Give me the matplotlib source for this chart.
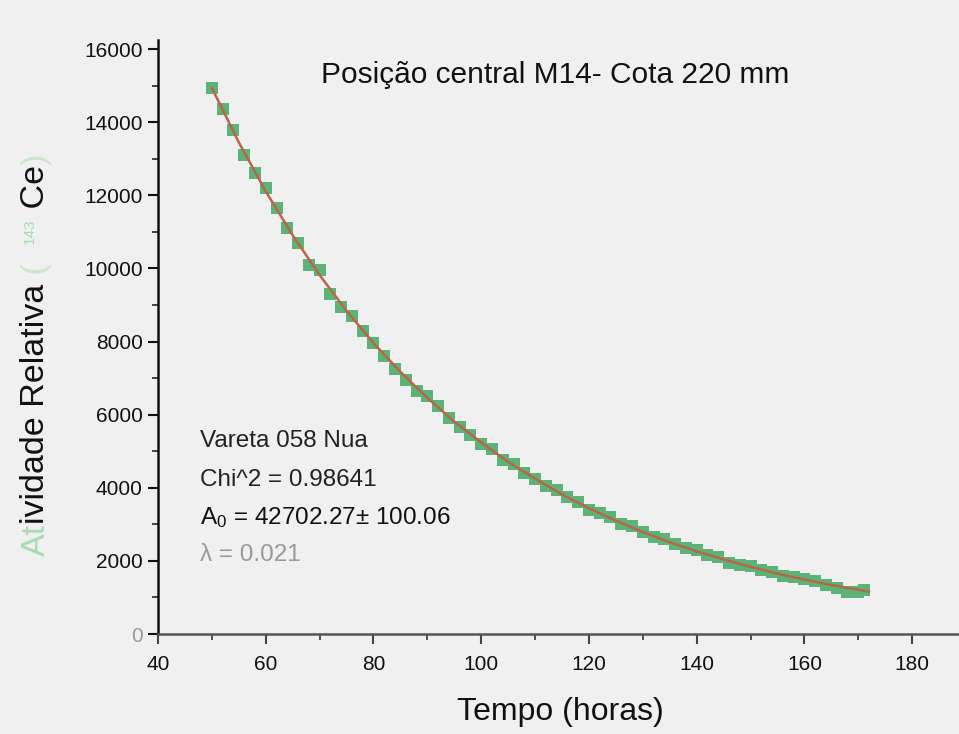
import matplotlib
matplotlib.use("Agg")
import matplotlib.pyplot as plt
from matplotlib.ticker import MultipleLocator

plt.rcParams['font.family'] = ['Liberation Sans', 'DejaVu Sans']
plt.rcParams['mathtext.fontset'] = 'custom'
plt.rcParams['mathtext.rm'] = 'Liberation Sans'
plt.rcParams['mathtext.default'] = 'regular'

# ---- data ----
tempo = [50, 52, 54, 56, 58, 60, 62, 64, 66, 68, 70, 72, 74, 76, 78, 80, 82, 84,
         86, 88, 90, 92, 94, 96, 98, 100, 102, 104, 106, 108, 110, 112, 114, 116,
         118, 120, 122, 124, 126, 128, 130, 132, 134, 136, 138, 140, 142, 144, 146,
         148, 150, 152, 154, 156, 158, 160, 162, 164, 166, 168, 170, 171]
atividade = [14950, 14350, 13800, 13100, 12600, 12200, 11650, 11100, 10700, 10100,
             9950, 9300, 8950, 8700, 8300, 7950, 7600, 7250, 6950, 6650, 6500, 6250,
             5900, 5650, 5450, 5200, 5050, 4750, 4650, 4400, 4250, 4050, 3950, 3750,
             3600, 3400, 3300, 3200, 3000, 2950, 2800, 2650, 2600, 2450, 2350, 2300,
             2150, 2100, 1950, 1900, 1850, 1750, 1700, 1600, 1550, 1500, 1450, 1350,
             1250, 1150, 1150, 1200]

fit_t = [50, 55, 60, 65, 70, 75, 80, 85, 90, 95, 100, 105, 110, 115, 120, 125,
         130, 135, 140, 145, 150, 155, 160, 165, 170, 172]
fit_a = [14940, 13450, 12110, 10910, 9820, 8840, 7960, 7170, 6460, 5810, 5240,
         4710, 4250, 3820, 3440, 3100, 2790, 2510, 2260, 2040, 1840, 1650, 1490,
         1340, 1210, 1160]

x_ticks = [40, 60, 80, 100, 120, 140, 160, 180]
y_ticks = [0, 2000, 4000, 6000, 8000, 10000, 12000, 14000, 16000]

title = "Posição central M14- Cota 220 mm"
annot = ["Vareta 058 Nua", "Chi^2 = 0.98641",
         "A$_{0}$ = 42702.27± 100.06", "λ = 0.021"]

BG = '#f0f0f0'
GREEN = '#5cb377'
LINE = '#b8654a'
LIGHTG = '#a8dcb0'

W, H = 959, 734
fig = plt.figure(figsize=(W / 100, H / 100), dpi=100, facecolor=BG)
ax = fig.add_axes([158 / W, 1 - 634 / H, (W - 158) / W, (634 - 40) / H])
ax.set_facecolor(BG)

ax.plot(tempo, atividade, linestyle='none', marker='s', markersize=9.3,
        color=GREEN, markeredgewidth=0, zorder=2, clip_on=False)
ax.plot(fit_t, fit_a, color=LINE, linewidth=1.8, zorder=3)

ax.set_xlim(40, 188.7)
ax.set_ylim(0, 16250)
ax.set_xticks(x_ticks)
ax.set_yticks(y_ticks)
ax.xaxis.set_minor_locator(MultipleLocator(10))
ax.yaxis.set_minor_locator(MultipleLocator(1000))

for s in ['top', 'right']:
    ax.spines[s].set_visible(False)
ax.spines['left'].set_linewidth(1.8)
ax.spines['left'].set_color('#111111')
ax.spines['bottom'].set_linewidth(1.8)
ax.spines['bottom'].set_color('#555555')

ax.tick_params(axis='both', which='major', direction='out', length=7, width=1.5,
               labelsize=15, pad=4, colors='#111111')
ax.tick_params(axis='both', which='minor', direction='out', length=4, width=1.3,
               colors='#333333')
ax.tick_params(axis='x', which='both', colors='#444444', labelcolor='#111111')
ax.tick_params(axis='x', which='major', pad=8)
ax.get_yticklabels()[0].set_color('#999999')

# title
fig.text(555 / W, 1 - 75 / H, title, ha='center', va='center', fontsize=21.5,
         color='#111111')

# annotations
ys = [441, 480, 518, 555]
cols = ['#222222', '#222222', '#111111', '#999999']
for txt, y, c in zip(annot, ys, cols):
    fig.text(200 / W, 1 - y / H, txt, ha='left', va='center', fontsize=17.5,
             color=c)

# x label
fig.text(560 / W, 1 - 712 / H, "Tempo (horas)", ha='center', va='center',
         fontsize=23, color='#111111')

# y label built from pieces
pieces = [("At", LIGHTG, 24.5, 0), ("ividade Relativa", '#111111', 24.5, 0),
          (" (", '#c8e8cc', 24.5, 0), ("  ", '#111111', 24.5, 0),
          ("143", LIGHTG, 11, -11), (" Ce", '#111111', 24.5, 0),
          (")", '#c8e8cc', 24.5, 0)]
fig.canvas.draw()
renderer = fig.canvas.get_renderer()
ybase = 556.0  # pixel from top
xbase = 44.5
cur = H - ybase
for txt, c, fs, dx in pieces:
    fig.text((xbase + dx) / W, cur / H, txt, rotation=90,
             rotation_mode='anchor', ha='left', va='baseline',
             fontsize=fs, color=c)
    tmp = fig.text(0, 0, txt, fontsize=fs)
    w = tmp.get_window_extent(renderer).width
    tmp.remove()
    cur += w

fig.savefig("out.png", dpi=100, facecolor=BG)
